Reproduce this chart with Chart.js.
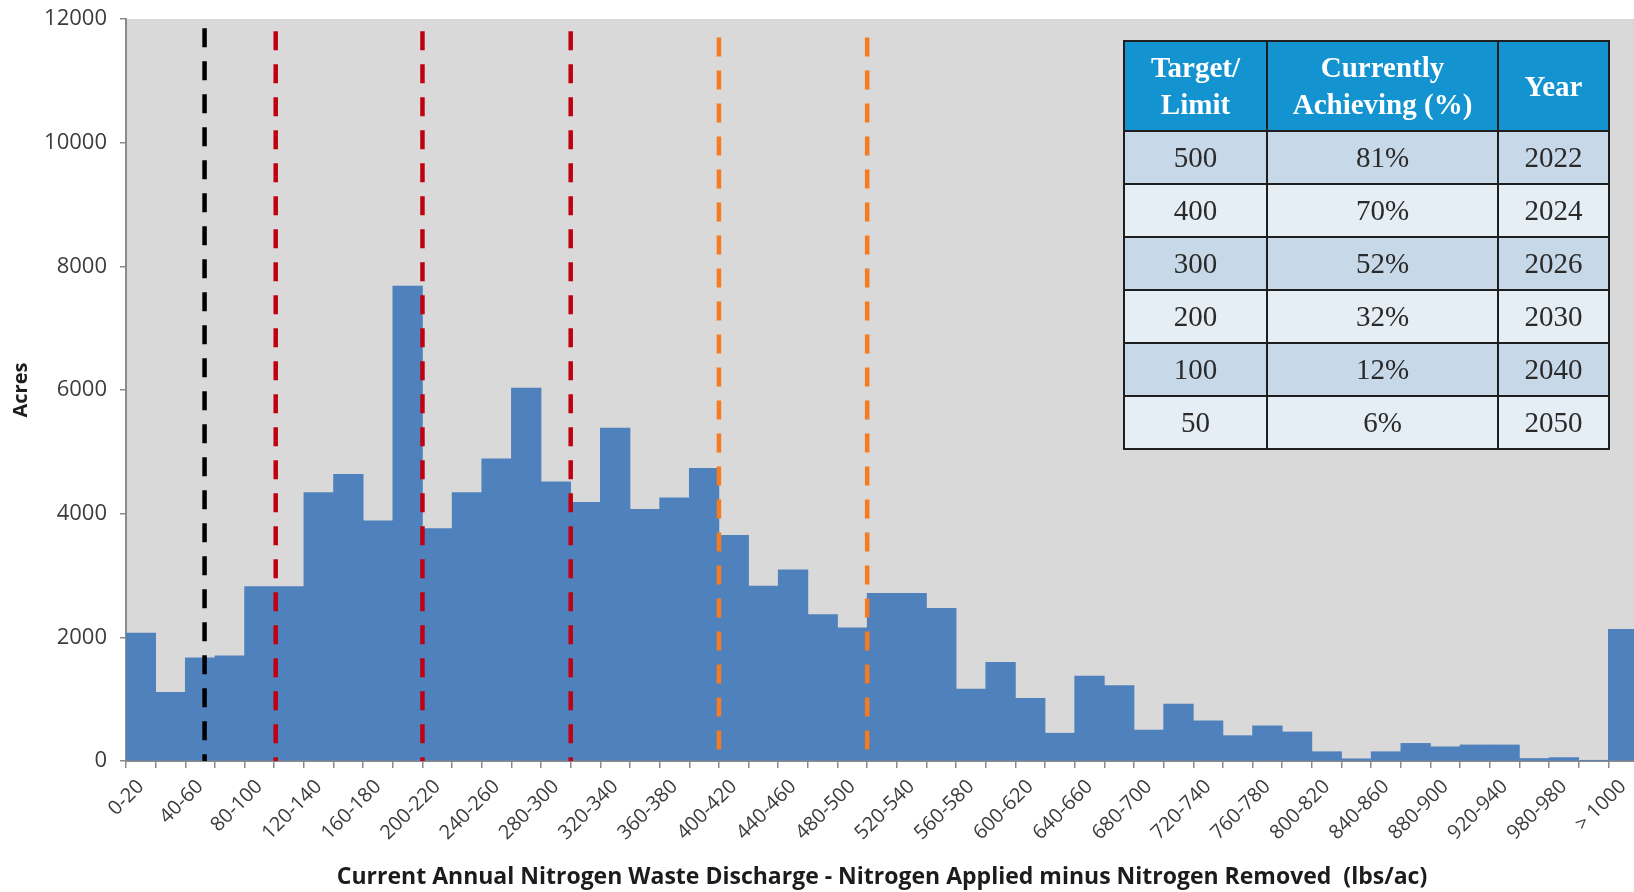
<!DOCTYPE html>
<html>
<head>
<meta charset="utf-8">
<script src="https://cdn.jsdelivr.net/npm/chart.js@4.4.0/dist/chart.umd.min.js"></script>
<style>
  html, body { margin: 0; padding: 0; background: #ffffff; }
  #wrap { position: relative; width: 1634px; height: 892px; overflow: hidden; }
  #c { position: absolute; left: 0; top: 0; }
  #tbl {
    position: absolute; left: 1123px; top: 40px; width: 485px;
    border-collapse: collapse; table-layout: fixed;
    font-family: "Liberation Serif", "DejaVu Serif", serif; color: #2a2a2a;
  }
  #tbl th, #tbl td { border: 2px solid #1e1e1e; padding: 0; text-align: center; }
  #tbl th { background: #1393cf; color: #ffffff; font-weight: bold; font-size: 29px; line-height: 37px; height: 88px; }
  #tbl td { font-size: 29px; height: 51px; }
  #tbl tbody tr:nth-child(odd) td { background: #c7d9e9; }
  #tbl tbody tr:nth-child(even) td { background: #e5edf5; }
</style>
</head>
<body>
<div id="wrap">
  <canvas id="c" width="1638" height="892"></canvas>
  <table id="tbl">
    <colgroup><col style="width:143px"><col style="width:231px"><col style="width:111px"></colgroup>
    <thead><tr id="th"></tr></thead>
    <tbody id="tb"></tbody>
  </table>
</div>
<script>
// ---- data ----
const categories = ['0-20','20-40','40-60','60-80','80-100','100-120','120-140','140-160','160-180','180-200',
  '200-220','220-240','240-260','260-280','280-300','300-320','320-340','340-360','360-380','380-400',
  '400-420','420-440','440-460','460-480','480-500','500-520','520-540','540-560','560-580','580-600',
  '600-620','620-640','640-660','660-680','680-700','700-720','720-740','740-760','760-780','780-800',
  '800-820','820-840','840-860','860-880','880-900','900-920','920-940','940-960','980-980','980-1000','> 1000'];

const acres = [2070,1110,1670,1700,2820,2820,4340,4635,3885,7680,
  3760,4340,4885,6030,4515,4185,5385,4070,4255,4735,
  3650,2830,3090,2370,2155,2710,2710,2470,1165,1595,
  1015,450,1375,1220,500,920,650,410,570,470,
  150,35,150,285,230,260,260,40,55,10,2130];

const yTicks = [0, 2000, 4000, 6000, 8000, 10000, 12000];

// reference (target) lines, in lbs/ac, and the height they reach
const limitLinesX   = [53, 101, 200, 300, 400, 500];
const limitLinesTop = [11850, 11800, 11800, 11800, 11700, 11700];

// table
const tableHeaders   = ['Target/\nLimit', 'Currently\nAchieving (%)', 'Year'];
const tableTarget    = ['500', '400', '300', '200', '100', '50'];
const tableAchieving = ['81%', '70%', '52%', '32%', '12%', '6%'];
const tableYear      = ['2022', '2024', '2026', '2030', '2040', '2050'];

// ---- table build ----
const thRow = document.getElementById('th');
tableHeaders.forEach(h => {
  const th = document.createElement('th');
  h.split('\n').forEach((part, i) => {
    if (i) th.appendChild(document.createElement('br'));
    th.appendChild(document.createTextNode(part));
  });
  thRow.appendChild(th);
});
const tb = document.getElementById('tb');
tableTarget.forEach((t, i) => {
  const tr = document.createElement('tr');
  [t, tableAchieving[i], tableYear[i]].forEach(v => {
    const td = document.createElement('td');
    td.textContent = v;
    tr.appendChild(td);
  });
  tb.appendChild(tr);
});

// ---- chart ----
const lineColors = ['#000000', '#c00010', '#c00010', '#c00010', '#f47b20', '#f47b20'];
const lineDatasets = limitLinesX.map((x, i) => ({
  type: 'line',
  data: [{ x: x, y: limitLinesTop[i] }, { x: x, y: 0 }],
  xAxisID: 'xl',
  yAxisID: 'y',
  borderColor: lineColors[i],
  borderWidth: 4.5,
  borderDash: [19, 14],
  pointRadius: 0,
  fill: false,
  order: 0
}));

const plotBg = {
  id: 'plotBg',
  beforeDraw(chart) {
    const { ctx, chartArea: a } = chart;
    ctx.save();
    ctx.fillStyle = '#d9d9d9';
    ctx.fillRect(a.left, a.top, a.right - a.left, a.bottom - a.top);
    ctx.restore();
  }
};

const tickFont = { family: '"Open Sans", sans-serif', size: 22 };
const xTickFont = { family: '"Open Sans", sans-serif', size: 20 };
const axisGray = '#8a8a8a';

new Chart(document.getElementById('c'), {
  data: {
    labels: categories,
    datasets: [
      {
        type: 'bar',
        data: acres,
        backgroundColor: '#4f81bd',
        borderWidth: 0,
        barPercentage: 1,
        categoryPercentage: 1,
        grouped: false,
        xAxisID: 'x',
        yAxisID: 'y',
        order: 1
      },
      ...lineDatasets
    ]
  },
  options: {
    responsive: false,
    animation: false,
    layout: { padding: { top: 19, right: 0, bottom: 0, left: 0 } },
    plugins: { legend: { display: false }, tooltip: { enabled: false } },
    scales: {
      x: {
        type: 'category',
        offset: true,
        grid: { offset: true, drawOnChartArea: false, drawTicks: true, tickLength: 7, color: axisGray, lineWidth: 1.5 },
        border: { display: true, color: axisGray, width: 2 },
        ticks: {
          autoSkip: false, minRotation: 45, maxRotation: 45, padding: 7,
          font: xTickFont, color: '#3c3c3c',
          callback: (v, i) => (i % 2 === 0 ? categories[i] : '')
        },
        title: {
          display: true,
          text: 'Current Annual Nitrogen Waste Discharge - Nitrogen Applied minus Nitrogen Removed  (lbs/ac)',
          font: { family: '"Open Sans", sans-serif', size: 23, weight: 'bold' },
          color: '#1c1c1c',
          padding: { top: 0, bottom: 1 }
        },
        afterFit: s => { s.height = 131; s.paddingLeft = 0; s.paddingRight = 0; }
      },
      xl: { type: 'linear', display: false, offset: false, min: 0, max: 1020 },
      y: {
        min: 0, max: 12000,
        afterBuildTicks: s => { s.ticks = yTicks.map(v => ({ value: v })); },
        grid: { drawOnChartArea: false, drawTicks: true, tickLength: 6, color: axisGray, lineWidth: 1.5 },
        border: { display: true, color: axisGray, width: 2 },
        ticks: { font: tickFont, color: '#3c3c3c', padding: 13, callback: v => String(v) },
        title: {
          display: true, text: 'Acres',
          font: { family: '"Open Sans", sans-serif', size: 20, weight: 'bold' },
          color: '#1c1c1c',
          padding: { top: 9, bottom: 0 }
        },
        afterFit: s => { s.width = 126; s.paddingTop = 0; s.paddingBottom = 0; }
      }
    }
  },
  plugins: [plotBg]
});
</script>
</body>
</html>
